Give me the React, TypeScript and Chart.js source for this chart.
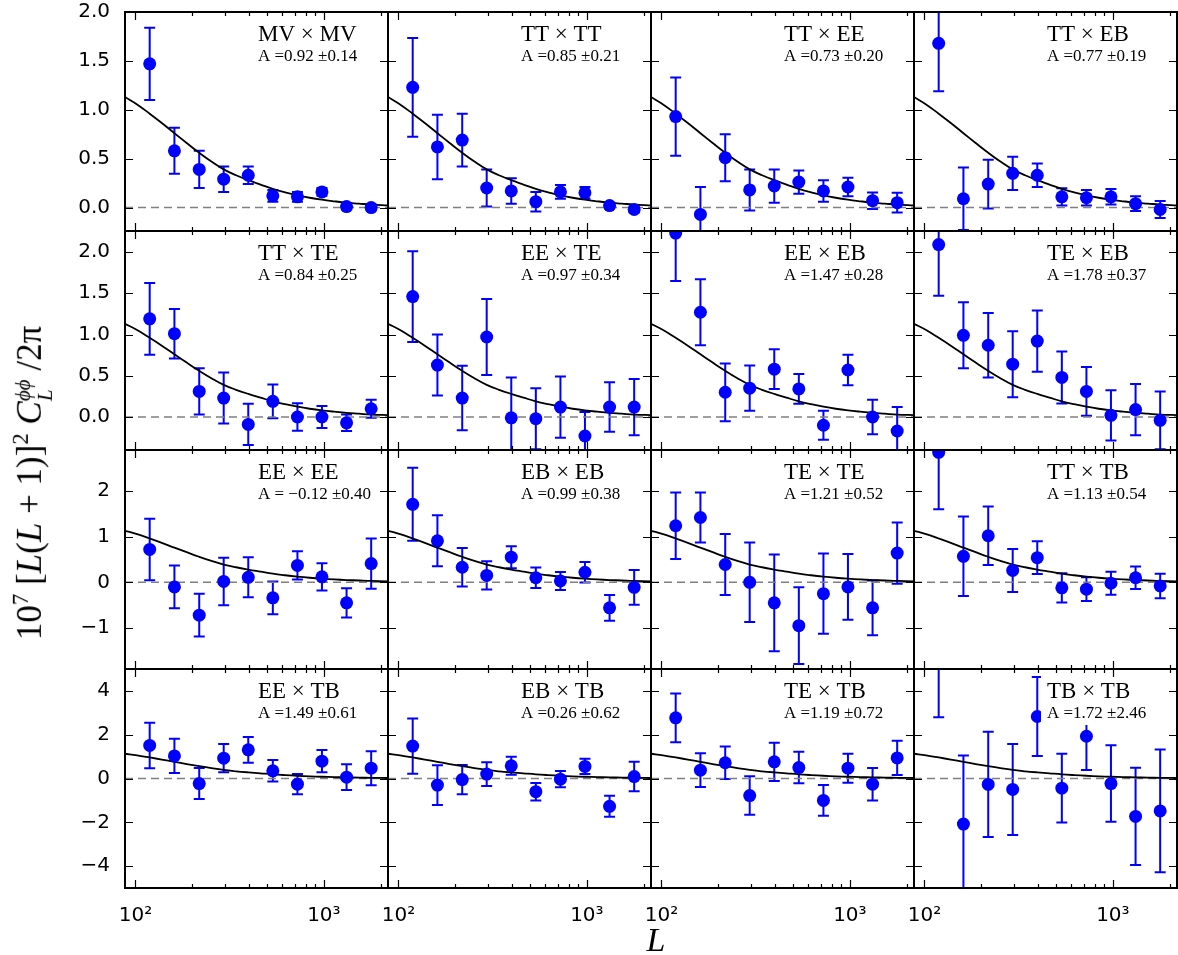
import { useEffect, useRef } from 'react';
import { Chart, registerables } from 'chart.js';

Chart.register(...registerables);

// bin centres in L, shared by every panel
const L_BINS = [119, 161, 218, 294, 397, 536, 724, 977, 1320, 1783];
const L_MIN = 88;
const L_MAX = 2190;

// fiducial lensing curve (solid black line)
const THEORY_L = [88, 102, 119, 138, 161, 187, 218, 253, 294, 342, 397, 461, 536, 623, 724, 841, 977, 1136, 1320, 1534, 1783, 2190];
const THEORY_CL = [1.13, 1.055, 0.96, 0.865, 0.76, 0.66, 0.56, 0.47, 0.39, 0.33, 0.28, 0.235, 0.19, 0.155, 0.125, 0.1, 0.08, 0.064, 0.05, 0.04, 0.03, 0.022];

// dashed reference line at zero
const ZERO_L = [L_MIN, L_MAX];
const ZERO_CL = [0, 0];

const X_TICKS = [100, 200, 300, 400, 500, 600, 700, 800, 900, 1000, 2000];
const X_MAJOR = [100, 1000];
const X_TICK_LABELS = ['10²', '10³'];

const ROW_Y_MIN = [-0.24, -0.4, -1.9, -5];
const ROW_Y_MAX = [2.0, 2.255, 2.9, 5];
const ROW_Y_TICKS = [
  [0, 0.5, 1, 1.5, 2],
  [0, 0.5, 1, 1.5, 2],
  [-1, 0, 1, 2],
  [-4, -2, 0, 2, 4],
];
const ROW_Y_LABELS = [
  ['0.0', '0.5', '1.0', '1.5', '2.0'],
  ['0.0', '0.5', '1.0', '1.5', '2.0'],
  ['−1', '0', '1', '2'],
  ['−4', '−2', '0', '2', '4'],
];

// bandpowers and 1-sigma errors, one pair per estimator
const MV_MV = [1.47, 0.58, 0.39, 0.29, 0.33, 0.12, 0.11, 0.16, 0.01, 0.0];
const MV_MV_ERR = [0.37, 0.235, 0.19, 0.13, 0.09, 0.06, 0.05, 0.04, 0.03, 0.03];
const TT_TT = [1.23, 0.62, 0.69, 0.2, 0.17, 0.06, 0.16, 0.15, 0.02, -0.02];
const TT_TT_ERR = [0.505, 0.33, 0.27, 0.19, 0.13, 0.1, 0.07, 0.06, 0.03, 0.03];
const TT_EE = [0.93, -0.07, 0.51, 0.18, 0.22, 0.26, 0.17, 0.21, 0.07, 0.05];
const TT_EE_ERR = [0.4, 0.28, 0.24, 0.21, 0.17, 0.12, 0.11, 0.095, 0.085, 0.1];
const TT_EB = [1.68, 0.09, 0.24, 0.35, 0.33, 0.11, 0.1, 0.11, 0.04, -0.02];
const TT_EB_ERR = [0.49, 0.32, 0.25, 0.17, 0.12, 0.088, 0.08, 0.08, 0.075, 0.088];

const TT_TE = [1.19, 1.01, 0.31, 0.23, -0.09, 0.19, 0.0, 0.0, -0.07, 0.1];
const TT_TE_ERR = [0.435, 0.3, 0.28, 0.31, 0.25, 0.205, 0.166, 0.133, 0.1, 0.11];
const EE_TE = [1.46, 0.63, 0.23, 0.97, -0.01, -0.02, 0.12, -0.23, 0.12, 0.12];
const EE_TE_ERR = [0.55, 0.37, 0.39, 0.46, 0.49, 0.37, 0.37, 0.29, 0.3, 0.34];
const EE_EB = [2.23, 1.27, 0.3, 0.35, 0.58, 0.34, -0.1, 0.57, 0.0, -0.17];
const EE_EB_ERR = [0.58, 0.4, 0.35, 0.275, 0.24, 0.18, 0.175, 0.185, 0.21, 0.29];
const TE_EB = [2.09, 0.99, 0.87, 0.64, 0.92, 0.48, 0.31, 0.02, 0.09, -0.04];
const TE_EB_ERR = [0.62, 0.4, 0.39, 0.4, 0.37, 0.315, 0.295, 0.305, 0.31, 0.35];

const EE_EE = [0.72, -0.1, -0.72, 0.02, 0.11, -0.34, 0.37, 0.12, -0.45, 0.41];
const EE_EE_ERR = [0.675, 0.467, 0.47, 0.52, 0.44, 0.36, 0.31, 0.3, 0.32, 0.55];
const EB_EB = [1.71, 0.91, 0.33, 0.15, 0.55, 0.1, 0.03, 0.22, -0.56, -0.11];
const EB_EB_ERR = [0.8, 0.56, 0.42, 0.31, 0.24, 0.226, 0.197, 0.225, 0.28, 0.38];
const TE_TE = [1.24, 1.42, 0.39, 0.0, -0.45, -0.95, -0.25, -0.1, -0.56, 0.64];
const TE_TE_ERR = [0.73, 0.55, 0.67, 0.87, 1.06, 0.84, 0.88, 0.72, 0.6, 0.67];
const TT_TB = [2.85, 0.57, 1.02, 0.26, 0.54, -0.12, -0.15, -0.02, 0.1, -0.08];
const TT_TB_ERR = [1.25, 0.87, 0.64, 0.47, 0.36, 0.32, 0.26, 0.25, 0.245, 0.27];

const EE_TB = [1.51, 1.03, -0.23, 0.93, 1.31, 0.35, -0.26, 0.79, 0.06, 0.47];
const EE_TB_ERR = [1.04, 0.78, 0.71, 0.64, 0.59, 0.49, 0.46, 0.51, 0.59, 0.78];
const EB_TB = [1.48, -0.3, -0.05, 0.2, 0.58, -0.6, -0.03, 0.55, -1.27, 0.09];
const EB_TB_ERR = [1.26, 0.91, 0.67, 0.54, 0.41, 0.4, 0.37, 0.35, 0.48, 0.67];
const TE_TB = [2.77, 0.38, 0.72, -0.78, 0.76, 0.5, -1.0, 0.47, -0.26, 0.94];
const TE_TB_ERR = [1.11, 0.77, 0.745, 0.88, 0.87, 0.72, 0.7, 0.66, 0.745, 0.78];
const TB_TB = [5.8, -2.08, -0.27, -0.5, 2.83, -0.44, 1.93, -0.23, -1.73, -1.48];
const TB_TB_ERR = [3.0, 3.13, 2.4, 2.08, 1.8, 1.57, 1.54, 1.75, 2.22, 2.8];

const PANELS = [
  { title: 'MV × MV', amp: 'A =0.92 ±0.14', values: MV_MV, errors: MV_MV_ERR },
  { title: 'TT × TT', amp: 'A =0.85 ±0.21', values: TT_TT, errors: TT_TT_ERR },
  { title: 'TT × EE', amp: 'A =0.73 ±0.20', values: TT_EE, errors: TT_EE_ERR },
  { title: 'TT × EB', amp: 'A =0.77 ±0.19', values: TT_EB, errors: TT_EB_ERR },
  { title: 'TT × TE', amp: 'A =0.84 ±0.25', values: TT_TE, errors: TT_TE_ERR },
  { title: 'EE × TE', amp: 'A =0.97 ±0.34', values: EE_TE, errors: EE_TE_ERR },
  { title: 'EE × EB', amp: 'A =1.47 ±0.28', values: EE_EB, errors: EE_EB_ERR },
  { title: 'TE × EB', amp: 'A =1.78 ±0.37', values: TE_EB, errors: TE_EB_ERR },
  { title: 'EE × EE', amp: 'A = −0.12 ±0.40', values: EE_EE, errors: EE_EE_ERR },
  { title: 'EB × EB', amp: 'A =0.99 ±0.38', values: EB_EB, errors: EB_EB_ERR },
  { title: 'TE × TE', amp: 'A =1.21 ±0.52', values: TE_TE, errors: TE_TE_ERR },
  { title: 'TT × TB', amp: 'A =1.13 ±0.54', values: TT_TB, errors: TT_TB_ERR },
  { title: 'EE × TB', amp: 'A =1.49 ±0.61', values: EE_TB, errors: EE_TB_ERR },
  { title: 'EB × TB', amp: 'A =0.26 ±0.62', values: EB_TB, errors: EB_TB_ERR },
  { title: 'TE × TB', amp: 'A =1.19 ±0.72', values: TE_TB, errors: TE_TB_ERR },
  { title: 'TB × TB', amp: 'A =1.72 ±2.46', values: TB_TB, errors: TB_TB_ERR },
];

const GRID_LEFT = 125;
const GRID_TOP = 12;
const PANEL_W = 263;
const PANEL_H = 219;
const PAD = 14;
const LEFT_GUTTER = 110;
const BOTTOM_GUTTER = 45;
const BLUE = '#0000ff';
const TICK_FONT = { family: '"DejaVu Sans", sans-serif', size: 20 };

type PanelSpec = (typeof PANELS)[number];

// error bars, key box and the inward-facing frame ticks
const makeDecor = (panel: PanelSpec, row: number) => ({
  id: 'panelDecor',
  beforeDatasetsDraw(chart: Chart) {
    const { ctx, chartArea: a, scales } = chart;
    const x = scales.x;
    const y = scales.y;
    ctx.save();
    ctx.beginPath();
    ctx.rect(a.left, a.top, a.width, a.height);
    ctx.clip();
    ctx.strokeStyle = BLUE;
    ctx.lineWidth = 2;
    L_BINS.forEach((L, i) => {
      const px = x.getPixelForValue(L);
      const hi = y.getPixelForValue(panel.values[i] + panel.errors[i]);
      const lo = y.getPixelForValue(panel.values[i] - panel.errors[i]);
      ctx.beginPath();
      ctx.moveTo(px, hi);
      ctx.lineTo(px, lo);
      ctx.moveTo(px - 5.5, hi);
      ctx.lineTo(px + 5.5, hi);
      ctx.moveTo(px - 5.5, lo);
      ctx.lineTo(px + 5.5, lo);
      ctx.stroke();
    });
    ctx.restore();
  },
  afterDatasetsDraw(chart: Chart) {
    const { ctx, chartArea: a, scales } = chart;
    const x = scales.x;
    const y = scales.y;
    ctx.save();

    // key
    const tx = a.left + 133;
    const titleFont = '23px "Liberation Serif", serif';
    const ampFont = '17px "Liberation Serif", serif';
    ctx.font = titleFont;
    const tw = ctx.measureText(panel.title).width;
    ctx.font = ampFont;
    const aw = ctx.measureText(panel.amp).width;
    ctx.fillStyle = '#ffffff';
    ctx.fillRect(tx - 6, a.top + 5, Math.max(tw, aw) + 10, 51);
    ctx.fillStyle = '#000000';
    ctx.textAlign = 'left';
    ctx.textBaseline = 'alphabetic';
    ctx.font = titleFont;
    ctx.fillText(panel.title, tx, a.top + 29);
    ctx.font = ampFont;
    ctx.fillText(panel.amp, tx, a.top + 49);

    // frame
    ctx.strokeStyle = '#000000';
    ctx.lineWidth = 2;
    ctx.strokeRect(a.left, a.top, a.width, a.height);

    // ticks pointing inward
    ctx.lineWidth = 1.2;
    ctx.beginPath();
    ROW_Y_TICKS[row].forEach((v) => {
      const py = Math.round(y.getPixelForValue(v)) + 0.5;
      ctx.moveTo(a.left, py);
      ctx.lineTo(a.left + 8, py);
      ctx.moveTo(a.right, py);
      ctx.lineTo(a.right - 8, py);
    });
    X_TICKS.forEach((v) => {
      const len = X_MAJOR.includes(v) ? 8 : 4;
      const px = Math.round(x.getPixelForValue(v)) + 0.5;
      ctx.moveTo(px, a.bottom);
      ctx.lineTo(px, a.bottom - len);
      ctx.moveTo(px, a.top);
      ctx.lineTo(px, a.top + len);
    });
    ctx.stroke();
    ctx.restore();
  },
});

const Panel = ({ index }: { index: number }) => {
  const canvasRef = useRef<HTMLCanvasElement | null>(null);
  const row = Math.floor(index / 4);
  const col = index % 4;
  const extraL = col === 0 ? LEFT_GUTTER : 0;
  const extraB = row === 3 ? BOTTOM_GUTTER : 0;
  const width = PANEL_W + 2 * PAD + extraL;
  const height = PANEL_H + 2 * PAD + extraB;
  const left = GRID_LEFT + col * PANEL_W - PAD - extraL;
  const top = GRID_TOP + row * PANEL_H - PAD;

  useEffect(() => {
    if (!canvasRef.current) return;
    const panel = PANELS[index];
    const chart = new Chart(canvasRef.current, {
      type: 'scatter',
      data: {
        datasets: [
          {
            data: L_BINS.map((L, i) => ({ x: L, y: panel.values[i] })),
            pointRadius: 6.5,
            pointBackgroundColor: BLUE,
            pointBorderWidth: 0,
            showLine: false,
            clip: 0,
            order: 0,
          },
          {
            data: THEORY_L.map((L, i) => ({ x: L, y: THEORY_CL[i] })),
            showLine: true,
            borderColor: '#000000',
            borderWidth: 1.8,
            pointRadius: 0,
            tension: 0.4,
            clip: 0,
            order: 1,
          },
          {
            data: ZERO_L.map((L, i) => ({ x: L, y: ZERO_CL[i] })),
            showLine: true,
            borderColor: '#808080',
            borderWidth: 1.6,
            borderDash: [8, 5],
            pointRadius: 0,
            clip: 0,
            order: 2,
          },
        ],
      },
      options: {
        animation: false,
        responsive: false,
        maintainAspectRatio: false,
        events: [],
        layout: { padding: { left: PAD, right: PAD, top: PAD, bottom: PAD } },
        plugins: { legend: { display: false }, tooltip: { enabled: false } },
        scales: {
          x: {
            type: 'logarithmic',
            min: L_MIN,
            max: L_MAX,
            display: row === 3,
            grid: { display: false },
            border: { display: false },
            ticks: {
              autoSkip: false,
              maxRotation: 0,
              minRotation: 0,
              padding: 8,
              color: '#000000',
              font: TICK_FONT,
              callback: (v) => {
                const k = X_MAJOR.indexOf(Number(v));
                return k >= 0 ? X_TICK_LABELS[k] : '';
              },
            },
            afterBuildTicks: (s) => {
              s.ticks = X_TICKS.map((v) => ({ value: v }));
            },
            afterFit: (s) => {
              s.height = extraB;
              s.paddingLeft = 0;
              s.paddingRight = 0;
            },
          },
          y: {
            type: 'linear',
            min: ROW_Y_MIN[row],
            max: ROW_Y_MAX[row],
            display: col === 0,
            grid: { display: false },
            border: { display: false },
            ticks: {
              padding: 7,
              color: '#000000',
              font: TICK_FONT,
              callback: (_v, i) => ROW_Y_LABELS[row][i],
            },
            afterBuildTicks: (s) => {
              s.ticks = ROW_Y_TICKS[row].map((v) => ({ value: v }));
            },
            afterFit: (s) => {
              s.width = extraL;
              s.paddingTop = 0;
              s.paddingBottom = 0;
            },
          },
        },
      },
      plugins: [makeDecor(panel, row)],
    });
    return () => chart.destroy();
  }, [index]);

  return (
    <canvas
      ref={canvasRef}
      width={width}
      height={height}
      style={{ position: 'absolute', left, top, width, height }}
    />
  );
};

export default function App() {
  return (
    <div
      style={{
        position: 'absolute',
        left: 0,
        top: 0,
        width: 1178,
        height: 955,
        overflow: 'hidden',
        background: '#ffffff',
      }}
    >
      {PANELS.map((_, i) => (
        <Panel key={i} index={i} />
      ))}

      {/* y-axis title */}
      <div
        style={{
          position: 'absolute',
          left: 33,
          top: 483,
          transform: 'translate(-50%, -50%) rotate(-90deg)',
          whiteSpace: 'nowrap',
          fontFamily: '"Liberation Serif", serif',
          fontSize: 35,
          lineHeight: 1,
        }}
      >
        10<sup style={{ fontSize: '0.65em' }}>7</sup>
        {' '}[<i>L</i>(<i>L</i> + 1)]<sup style={{ fontSize: '0.65em' }}>2</sup>
        {' '}<i>C</i>
        <span
          style={{
            display: 'inline-flex',
            flexDirection: 'column',
            fontSize: '0.6em',
            lineHeight: 1.05,
            verticalAlign: '0.5em',
          }}
        >
          <i>ϕϕ</i>
          <i>L</i>
        </span>
        {' '}/2π
      </div>

      {/* x-axis title */}
      <div
        style={{
          position: 'absolute',
          left: 656,
          top: 940,
          transform: 'translate(-50%, -50%)',
          fontFamily: '"Liberation Serif", serif',
          fontStyle: 'italic',
          fontSize: 34,
          lineHeight: 1,
        }}
      >
        L
      </div>
    </div>
  );
}
